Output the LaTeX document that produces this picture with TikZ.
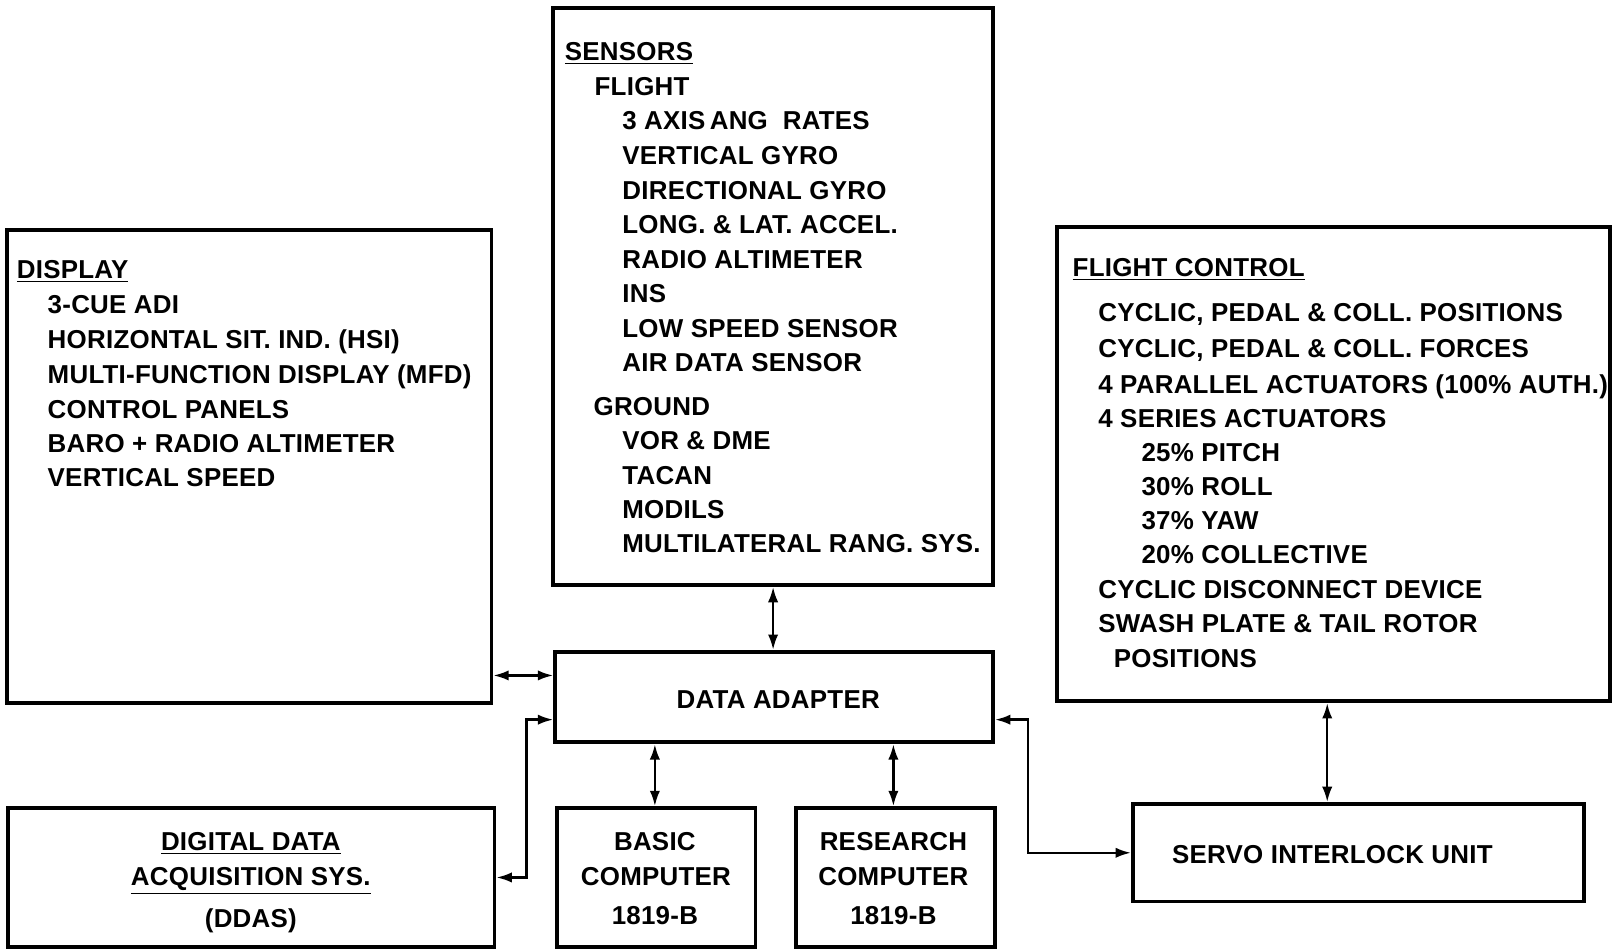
\documentclass[tikz,border=0pt]{standalone}
\usepackage{fontspec}
\setmainfont{Liberation Sans}[LetterSpace=1]
\usetikzlibrary{fit,arrows.meta}
\newcommand\dfont{\fontsize{12.6}{15}\selectfont\bfseries}
\begin{document}
\begin{tikzpicture}[x=0.5pt,y=-0.5pt,
  box/.style={draw, line width=1.8pt, inner sep=0pt},
  txt/.style={anchor=base west, inner sep=0pt, font=\dfont},
  ctxt/.style={anchor=base, inner sep=0pt, font=\dfont},
  link/.style={line width=1.2pt, {Latex[length=7.5pt,width=5pt]}-{Latex[length=7.5pt,width=5pt]}}]
\useasboundingbox (0,0) rectangle (1568,923);
% boxes
\node[box, fit={(7,224)(478,684)}] (disp) {};
\node[box, fit={(538,8)(966,569)}] (sens) {};
\node[box, fit={(1028,221)(1566,682)}] (fc) {};
\node[box, fit={(540,634)(966,722)}] (da) {};
\node[box, fit={(8,786)(481,921)}] (ddas) {};
\node[box, fit={(542,786)(735,921)}] (basic) {};
\node[box, fit={(774,786)(968,921)}] (res) {};
\node[box, fit={(1102,782)(1541,877)}] (servo) {};
% helper coordinates
\coordinate (h1) at (0,657);
\coordinate (j1) at (512,700);
\coordinate (j2) at (1000,700);
\coordinate (j3) at (1291,0);
\coordinate (j4) at (637,0);
\coordinate (j5) at (869,0);
% connectors
\draw[link] (sens.south) -- (sens.south |- da.north);
\draw[link] (disp.east |- h1) -- (da.west |- h1);
\draw[link] (ddas.east) -| (j1) -- (da.west |- j1);
\draw[link] (da.south -| j4) -- (basic.north -| j4);
\draw[link] (da.south -| j5) -- (res.north -| j5);
\draw[link] (da.east |- j2) -- (j2) |- (servo.west);
\draw[link] (fc.south -| j3) -- (servo.north -| j3);
% display text
\node[txt] (d0) at (16,271) {\underline{DISPLAY}};
\node[txt] (d1) at (46,305) {3-CUE ADI};
\node[txt] (d2) at (46,339) {HORIZONTAL SIT. IND. (HSI)};
\node[txt] (d3) at (46,373) {MULTI-FUNCTION DISPLAY (MFD)};
\node[txt] (d4) at (46,407) {CONTROL PANELS};
\node[txt] (d5) at (46,440) {BARO + RADIO ALTIMETER};
\node[txt] (d6) at (46,473) {VERTICAL SPEED};
% sensors text
\node[txt] (s0) at (549,59) {\underline{SENSORS}};
\node[txt] (s1) at (578,93) {FLIGHT};
\node[txt] (s2) at (605,126) {3 AXIS\,ANG\ \ RATES};
\node[txt] (s3) at (605,160) {VERTICAL GYRO};
\node[txt] (s4) at (605,194) {DIRECTIONAL GYRO};
\node[txt] (s5) at (605,227) {LONG. \& LAT. ACCEL.};
\node[txt] (s6) at (605,261) {RADIO ALTIMETER};
\node[txt] (s7) at (605,294) {INS};
\node[txt] (s8) at (605,328) {LOW SPEED SENSOR};
\node[txt] (s9) at (605,361) {AIR DATA SENSOR};
\node[txt] (s10) at (577,404) {GROUND};
\node[txt] (s11) at (605,437) {VOR \& DME};
\node[txt] (s12) at (605,471) {TACAN};
\node[txt] (s13) at (605,504) {MODILS};
\node[txt] (s14) at (605,537) {MULTILATERAL RANG. SYS.};
% flight control text
\node[txt] (f0) at (1043,269) {\underline{FLIGHT CONTROL}};
\node[txt] (f1) at (1068,313) {CYCLIC, PEDAL \& COLL. POSITIONS};
\node[txt] (f2) at (1068,348) {CYCLIC, PEDAL \& COLL. FORCES};
\node[txt] (f3) at (1068,383) {4 PARALLEL ACTUATORS (100\% AUTH.)};
\node[txt] (f4) at (1068,416) {4 SERIES ACTUATORS};
\node[txt] (f5) at (1110,449) {25\% PITCH};
\node[txt] (f6) at (1110,482) {30\% ROLL};
\node[txt] (f7) at (1110,515) {37\% YAW};
\node[txt] (f8) at (1110,548) {20\% COLLECTIVE};
\node[txt] (f9) at (1068,582) {CYCLIC DISCONNECT DEVICE};
\node[txt] (f10) at (1068,615) {SWASH PLATE \& TAIL ROTOR};
\node[txt] (f11) at (1083,649) {POSITIONS};
% other text
\node[ctxt] (a0) at (757,689) {DATA ADAPTER};
\node[ctxt] (g1) at (244,827) {\underline{DIGITAL DATA}};
\node[ctxt] (g2) at (244,861) {\underline{ACQUISITION SYS.}};
\node[ctxt] (g3) at (244,902) {(DDAS)};
\node[ctxt] (b1) at (637,827) {BASIC};
\node[ctxt] (b2) at (638,861) {COMPUTER};
\node[ctxt] (b3) at (637,899) {1819-B};
\node[ctxt] (r1) at (869,827) {RESEARCH};
\node[ctxt] (r2) at (869,861) {COMPUTER};
\node[ctxt] (r3) at (869,899) {1819-B};
\node[ctxt] (v1) at (1296,840) {SERVO INTERLOCK UNIT};
\end{tikzpicture}
\end{document}
